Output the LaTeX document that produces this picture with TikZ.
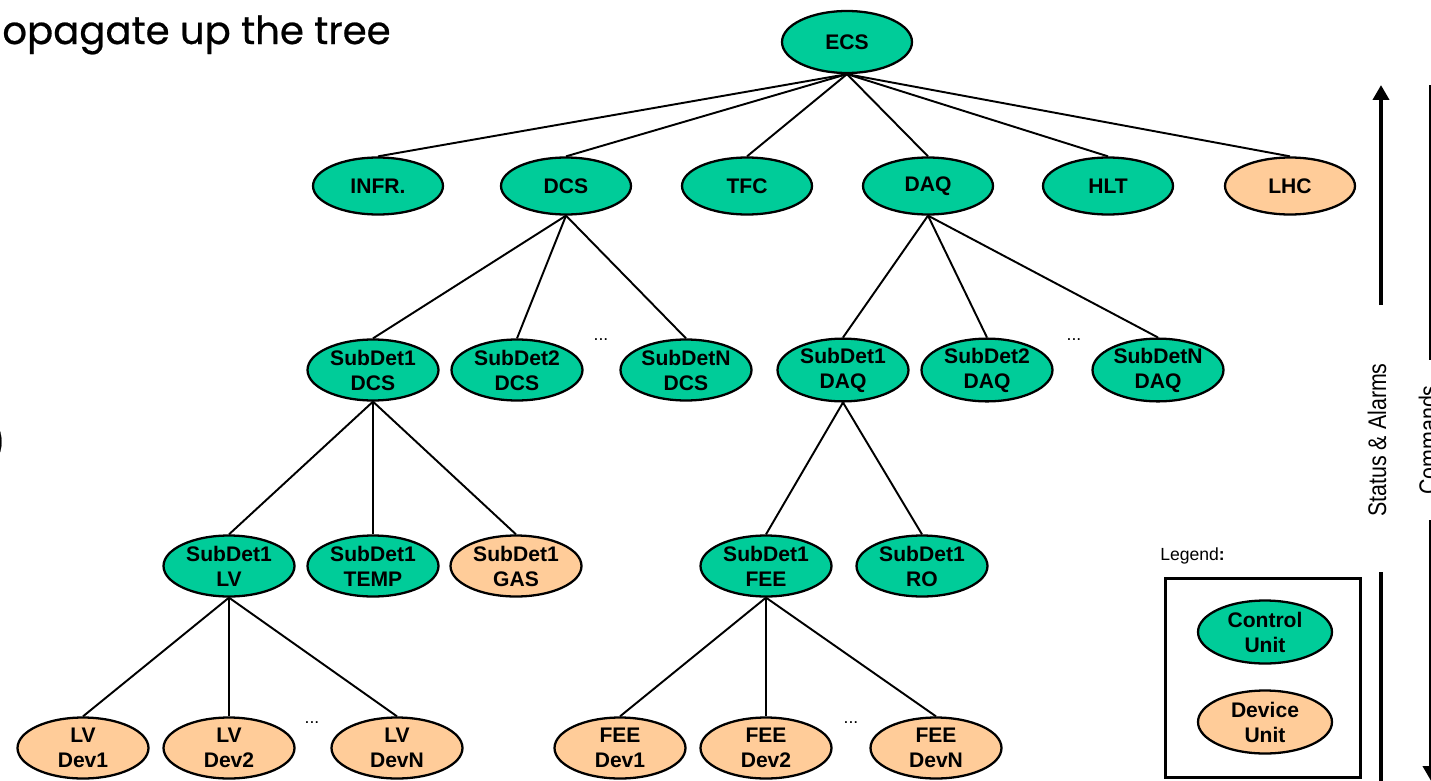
\documentclass[tikz,border=0pt]{standalone}
\usepackage{fontspec}
\setmainfont{Liberation Sans}
\newfontfamily\slidefont[FakeBold=0.6]{Poppins}
\newfontfamily\narrowfont[FakeStretch=0.84]{Liberation Sans}
\usetikzlibrary{positioning,shapes.geometric,arrows.meta}
\definecolor{ctrlgreen}{RGB}{0,204,153}
\definecolor{devorange}{RGB}{255,204,153}

\begin{document}
\begin{tikzpicture}[x=0.02cm,y=-0.02cm,
  unit/.style={ellipse,draw,line width=1.3pt,inner sep=0pt,minimum width=2.62cm,minimum height=1.22cm,align=center,font=\bfseries\fontsize{12}{14.2}\selectfont},
  ctrl/.style={unit,fill=ctrlgreen},
  dev/.style={unit,fill=devorange},
  link/.style={line width=1.1pt},
  bar/.style={line width=2.8pt},
  flow/.style={bar,-{Triangle[width=0.32cm,length=0.3cm]}},
  side/.style={rotate=90,font=\narrowfont\fontsize{14.5}{16}\selectfont},
  slide/.style={inner sep=0pt,font=\slidefont\fontsize{22}{26}\selectfont}]

\useasboundingbox (0,0) rectangle (1431,781);

\node[slide,anchor=base west] (headline) at (2,44) {opagate up the tree};
\node[slide,anchor=base east] (paren) at (6,456) {)};

\node[ctrl,minimum width=2.6cm,minimum height=1.24cm] (ecs) at (847,42) {ECS};

\foreach \x/\name/\txt/\kind in {378/infr/INFR./ctrl, 566/dcs/DCS/ctrl, 747/tfc/TFC/ctrl, 928/daq/DAQ/ctrl, 1108/hlt/HLT/ctrl, 1290/lhc/LHC/dev} {
    \node[style=\kind,minimum width=2.6cm,minimum height=1.14cm] (\name) at (\x,186) {\txt};
    \draw[link] (ecs.south) -- (\name.north);
}

\foreach \x/\up/\name/\txt in {373/dcs/sdcsa/SubDet1\\DCS, 517/dcs/sdcsb/SubDet2\\DCS, 686/dcs/sdcsn/SubDetN\\DCS,
    843/daq/sdaqa/SubDet1\\DAQ, 987/daq/sdaqb/SubDet2\\DAQ, 1158/daq/sdaqn/SubDetN\\DAQ} {
    \node[ctrl] (\name) at (\x,370) {\txt};
    \draw[link] (\up.south) -- (\name.north);
}

\foreach \x/\up/\name/\txt/\kind in {229/sdcsa/lv/SubDet1\\LV/ctrl, 373/sdcsa/temp/SubDet1\\TEMP/ctrl, 516/sdcsa/gas/SubDet1\\GAS/dev,
    766/sdaqa/fee/SubDet1\\FEE/ctrl, 922/sdaqa/ro/SubDet1\\RO/ctrl} {
    \node[style=\kind] (\name) at (\x,566) {\txt};
    \draw[link] (\up.south) -- (\name.north);
}

\foreach \x/\up/\name/\txt in {83/lv/lva/LV\\Dev1, 229/lv/lvb/LV\\Dev2, 397/lv/lvn/LV\\DevN,
    620/fee/feea/FEE\\Dev1, 766/fee/feeb/FEE\\Dev2, 936/fee/feen/FEE\\DevN} {
    \node[dev] (\name) at (\x,748) {\txt};
    \draw[link] (\up.south) -- (\name.north);
}

\foreach \x/\y/\name in {601/340/dotsa, 1074/340/dotsb, 312/723/dotsc, 851/723/dotsd} {
    \node[anchor=base,inner sep=0pt] (\name) at (\x,\y) {...};
}

\node[anchor=west,inner sep=0pt] (legtitle) at (1160,556) {Legend\textbf{:}};
\node[draw,line width=1.7pt,minimum width=3.92cm,minimum height=4cm] (legbox) at (1263,678) {};
\node[ctrl,minimum width=2.68cm,minimum height=1.26cm] (legctrl) at (1265,632) {Control\\Unit};
\node[dev,minimum width=2.68cm,minimum height=1.26cm] (legdev) at (1265,722) {Device\\Unit};

\coordinate (stlow) at (1381,305);
\coordinate (sthigh) at (1381,85);
\coordinate (stcut) at (1381,572);
\coordinate (stend) at (1381,781);
\draw[flow] (stlow) -- (sthigh);
\draw[bar] (stcut) -- (stend);
\node[side] (stlabel) at (1377,440) {Status \& Alarms};

\coordinate (cmdhigh) at (1431,85);
\coordinate (cmdmid) at (1431,360);
\coordinate (cmdcut) at (1431,520);
\coordinate (cmdend) at (1431,781);
\draw[bar] (cmdhigh) -- (cmdmid);
\draw[flow] (cmdcut) -- (cmdend);
\node[side] (cmdlabel) at (1428,440) {Commands};
\end{tikzpicture}
\end{document}
